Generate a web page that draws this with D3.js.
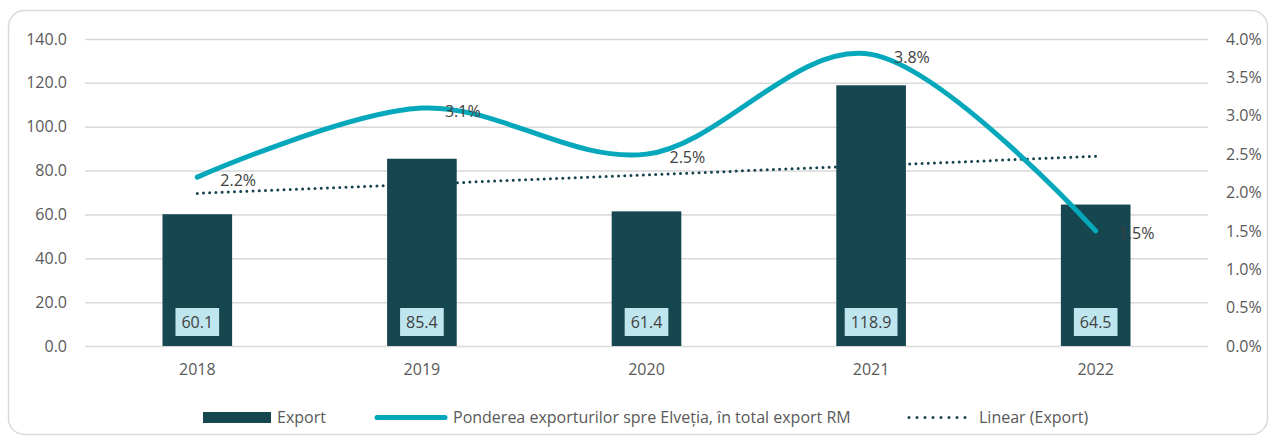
<!DOCTYPE html>
<html>
<head>
<meta charset="utf-8">
<script src="https://cdn.jsdelivr.net/npm/d3@7"></script>
<style>
  body { margin: 0; background: #fff; }
  text { font-family: "Open Sans", sans-serif; }
</style>
</head>
<body>
<div id="chart"></div>
<script>
// Chart data
var years = ["2018", "2019", "2020", "2021", "2022"]
var exportValues = [60.1, 85.4, 61.4, 118.9, 64.5]
var shareValues = [0.022, 0.031, 0.025, 0.038, 0.015]
var leftTicks = [0, 20, 40, 60, 80, 100, 120, 140]
var rightTicks = [0, 0.005, 0.01, 0.015, 0.02, 0.025, 0.03, 0.035, 0.04]
var legendLabels = ["Export", "Ponderea exporturilor spre Elveția, în total export RM", "Linear (Export)"]

var width = 1269
var height = 445
var plotLeft = 85, plotRight = 1208, plotTop = 39, plotBottom = 346
var fontSize = "16px"

var barColor = "#16464f"
var lineColor = "#05a7bb"
var trendColor = "#15444e"
var textColor = "#595959"

var svg = d3.select("#chart").append("svg")
    .attr("width", width)
    .attr("height", height)

// Outer frame
svg.append("rect")
    .attr("x", 8.5).attr("y", 10.5)
    .attr("width", 1259).attr("height", 424)
    .attr("rx", 16)
    .attr("fill", "#fff")
    .attr("stroke", "#d9d9d9")
    .attr("stroke-width", 1.5)

// Scales
var xScale = d3.scaleBand()
    .domain(years)
    .range([plotLeft, plotRight])
    .padding(0)

var yLeft = d3.scaleLinear()
    .domain([0, 140])
    .range([plotBottom, plotTop])

var yRight = d3.scaleLinear()
    .domain([0, 0.04])
    .range([plotBottom, plotTop])

var cx = d => xScale(d) + xScale.bandwidth() / 2

// Gridlines
svg.append("g")
    .attr("transform", "translate(" + plotLeft + ",0)")
    .call(d3.axisLeft(yLeft).tickValues(leftTicks).tickSize(-(plotRight - plotLeft)).tickFormat(""))
    .call(g => g.select(".domain").remove())
    .call(g => g.selectAll("line").attr("stroke", "#d9d9d9").attr("stroke-width", 1.5))

// Left axis labels
svg.append("g")
    .attr("transform", "translate(" + plotLeft + ",0)")
    .call(d3.axisLeft(yLeft).tickValues(leftTicks).tickSize(0).tickPadding(18).tickFormat(d3.format(".1f")))
    .call(g => g.select(".domain").remove())
    .call(g => g.selectAll("text").attr("fill", textColor).style("font-size", fontSize))

// Right axis labels
svg.append("g")
    .attr("transform", "translate(" + plotRight + ",0)")
    .call(d3.axisRight(yRight).tickValues(rightTicks).tickSize(0).tickPadding(18).tickFormat(d3.format(".1%")))
    .call(g => g.select(".domain").remove())
    .call(g => g.selectAll("text").attr("fill", textColor).style("font-size", fontSize))

// X axis labels
svg.append("g")
    .attr("transform", "translate(0," + plotBottom + ")")
    .call(d3.axisBottom(xScale).tickSize(0).tickPadding(18))
    .call(g => g.select(".domain").remove())
    .call(g => g.selectAll("text").attr("fill", textColor).style("font-size", fontSize))

svg.selectAll(".tick text").attr("font-family", null)

// Bars
var barWidth = xScale.bandwidth() * 0.31
var bars = svg.selectAll(".bar")
    .data(years.map((y, i) => [y, exportValues[i]]))
    .enter()
    .append("g")

bars.append("rect")
    .attr("class", "bar")
    .attr("x", d => cx(d[0]) - barWidth / 2)
    .attr("y", d => yLeft(d[1]))
    .attr("width", barWidth)
    .attr("height", d => plotBottom - yLeft(d[1]))
    .attr("fill", barColor)

// Bar value labels in light boxes, box sized to the text
var boxH = 28
var boxes = bars.append("rect")
    .attr("y", plotBottom - 10 - boxH)
    .attr("height", boxH)
    .attr("fill", "#bfe6ef")

var barLabels = bars.append("text")
    .attr("x", d => cx(d[0]))
    .attr("y", plotBottom - 10 - boxH / 2)
    .attr("dy", "0.35em")
    .attr("text-anchor", "middle")
    .attr("fill", "#404040")
    .style("font-size", fontSize)
    .text(d => d[1].toFixed(1))

barLabels.each(function (d, i) {
    var w = this.getComputedTextLength() + 12
    d3.select(boxes.nodes()[i])
        .attr("x", cx(d[0]) - w / 2)
        .attr("width", w)
})

// Linear trend of export (least squares)
var xs = years.map((y, i) => i + 1)
var mx = d3.mean(xs), my = d3.mean(exportValues)
var slope = d3.sum(xs, (x, i) => (x - mx) * (exportValues[i] - my)) / d3.sum(xs, x => (x - mx) * (x - mx))
var intercept = my - slope * mx
var trend = [[years[0], intercept + slope * 1], [years[years.length - 1], intercept + slope * years.length]]

svg.append("path")
    .datum(trend)
    .attr("fill", "none")
    .attr("stroke", trendColor)
    .attr("stroke-width", 3)
    .attr("stroke-linecap", "round")
    .attr("stroke-dasharray", "0 6.2")
    .attr("d", d3.line()
        .x(d => cx(d[0]))
        .y(d => yLeft(d[1])))

// Share line (smoothed)
var shareData = years.map((y, i) => [y, shareValues[i]])
svg.append("path")
    .datum(shareData)
    .attr("fill", "none")
    .attr("stroke", lineColor)
    .attr("stroke-width", 5)
    .attr("stroke-linecap", "round")
    .attr("d", d3.line()
        .curve(d3.curveCatmullRom.alpha(0))
        .x(d => cx(d[0]))
        .y(d => yRight(d[1])))

// Share labels to the right of points
svg.selectAll(".share-label")
    .data(shareData)
    .enter()
    .append("text")
    .attr("class", "share-label")
    .attr("x", d => cx(d[0]) + 23)
    .attr("y", d => yRight(d[1]) + 3)
    .attr("dy", "0.35em")
    .attr("fill", "#404040")
    .style("font-size", fontSize)
    .text(d => d3.format(".1%")(d[1]))

// Legend
var legend = svg.append("g")

legend.append("rect")
    .attr("x", 203).attr("y", 412)
    .attr("width", 68).attr("height", 11)
    .attr("fill", barColor)
legend.append("text")
    .attr("x", 277).attr("y", 417.5).attr("dy", "0.35em")
    .attr("fill", textColor).style("font-size", fontSize)
    .text(legendLabels[0])

legend.append("line")
    .attr("x1", 377).attr("x2", 445)
    .attr("y1", 417.5).attr("y2", 417.5)
    .attr("stroke", lineColor).attr("stroke-width", 5)
    .attr("stroke-linecap", "round")
legend.append("text")
    .attr("x", 453).attr("y", 417.5).attr("dy", "0.35em")
    .attr("fill", textColor).style("font-size", fontSize)
    .text(legendLabels[1])

legend.append("line")
    .attr("x1", 909).attr("x2", 973)
    .attr("y1", 417.5).attr("y2", 417.5)
    .attr("stroke", trendColor).attr("stroke-width", 3)
    .attr("stroke-linecap", "round")
    .attr("stroke-dasharray", "0 8")
legend.append("text")
    .attr("x", 979).attr("y", 417.5).attr("dy", "0.35em")
    .attr("fill", textColor).style("font-size", fontSize)
    .text(legendLabels[2])
</script>
</body>
</html>
